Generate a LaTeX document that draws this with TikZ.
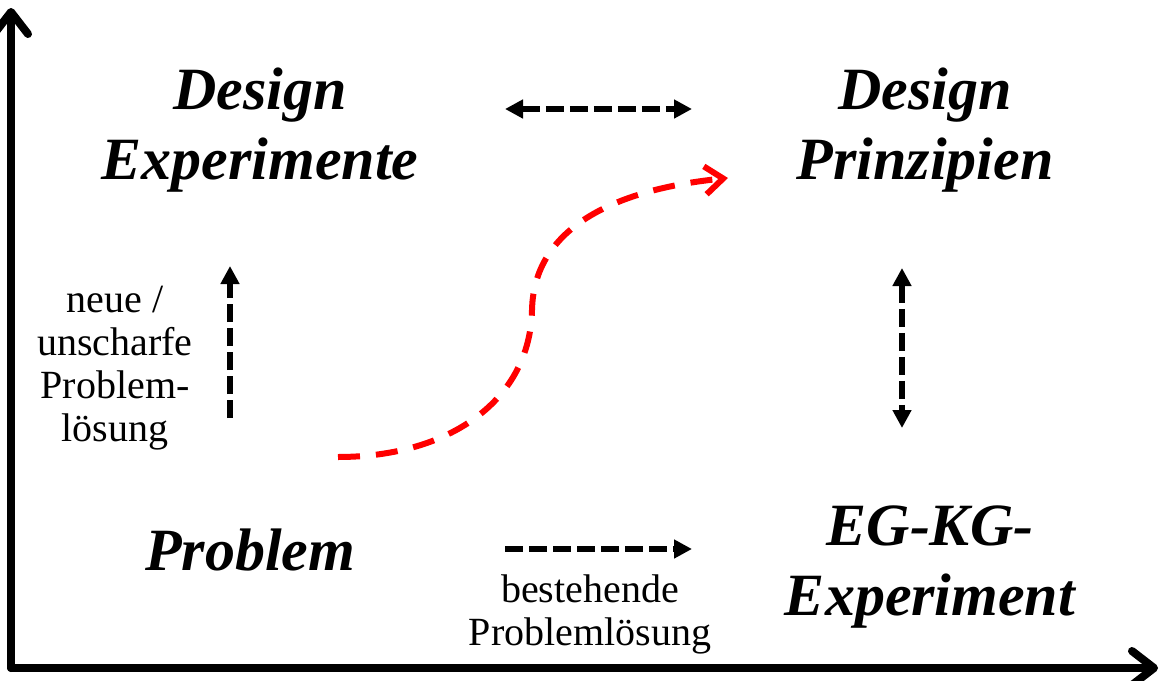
\documentclass[tikz,border=0pt]{standalone}
\usepackage{fontspec}
\setmainfont{Liberation Serif}
\usepackage{xcolor}
\usetikzlibrary{arrows.meta, positioning}

\begin{document}
\begin{tikzpicture}[
  x=0.5pt, y=-0.5pt,
  phase/.style={font=\fontsize{30}{35}\selectfont\bfseries\itshape, align=center, inner sep=0pt},
  note/.style={font=\fontsize{20}{21.5}\selectfont, align=center, inner sep=0pt},
  axis/.style={line width=4pt, line cap=round, -{Straight Barb[length=11pt, width=17pt, round]}},
  link/.style={line width=2.8pt, dash pattern=on 9pt off 3pt, >={Triangle[length=9pt, width=9pt]}},
  flow/.style={line width=3pt, draw=red, dash pattern=on 11pt off 8pt,
               -{Straight Barb[length=9pt, width=14pt]}}
]
\useasboundingbox (0,0) rectangle (1164,681);

% ── Axes ──
\coordinate (origin) at (11,668);
\coordinate (ytop)   at (11,8);
\coordinate (xend)   at (1158,668);
\draw[axis] (origin) -- (ytop);
\draw[axis] (origin) -- (xend);

% ── Phase nodes ──
\node[phase] (dexp)  at (260,130) {Design\\Experimente};
\node[phase] (dprin) at (925,130) {Design\\Prinzipien};
\node[phase] (prob)  at (250,550) {Problem};
\node[phase] (egkg)  at (930,567) {EG-KG-\\Experiment};

% ── Notes ──
\node[note] (neue) at (115,368) {neue /\\unscharfe\\Problem-\\lösung};
\node[note] (best) at (590,614) {bestehende\\Problemlösung};

% ── Arrow ends ──
\coordinate (topL) at (505,109);
\coordinate (topR) at (692,109);
\coordinate (rgtT) at (902,268);
\coordinate (rgtB) at (902,428);
\coordinate (lftB) at (230,418);
\coordinate (lftT) at (230,266);
\coordinate (botL) at (505,549);
\coordinate (botR) at (692,549);
\coordinate (sBeg) at (338,457);
\coordinate (sMid) at (532,310);
\coordinate (sEnd) at (728,178);

% ── Dashed arrows ──
\draw[link, <->] (topL) -- (topR);
\draw[link, <->] (rgtT) -- (rgtB);
\draw[link, ->] (lftB) -- (lftT);
\draw[link, ->] (botL) -- (botR);

% ── Red S-curve ──
\draw[flow] (sBeg) .. controls (450,457) and (530,400) .. (sMid)
                   .. controls (534,220) and (630,188) .. (sEnd);
\end{tikzpicture}
\end{document}
